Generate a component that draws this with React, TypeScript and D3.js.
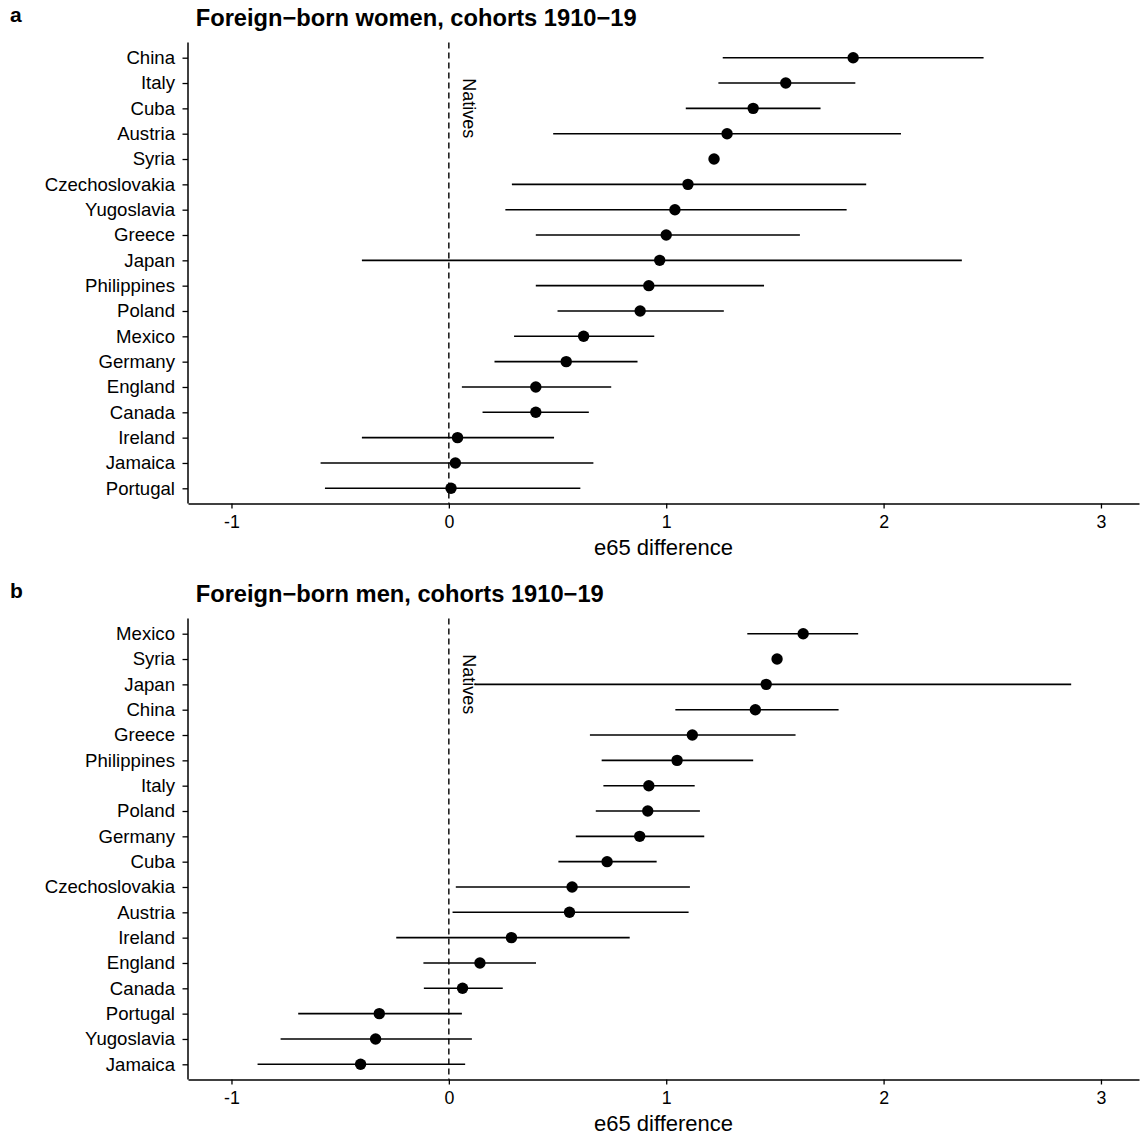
import React, { useEffect, useRef } from 'react';
import * as d3 from 'd3';

// panel a: women
const womenCountries = ['China', 'Italy', 'Cuba', 'Austria', 'Syria', 'Czechoslovakia', 'Yugoslavia', 'Greece', 'Japan', 'Philippines', 'Poland', 'Mexico', 'Germany', 'England', 'Canada', 'Ireland', 'Jamaica', 'Portugal'];
const womenEst = [1.86, 1.55, 1.40, 1.28, 1.22, 1.10, 1.04, 1.00, 0.97, 0.92, 0.88, 0.62, 0.54, 0.40, 0.40, 0.04, 0.03, 0.01];
const womenLow = [1.26, 1.24, 1.09, 0.48, null, 0.29, 0.26, 0.40, -0.40, 0.40, 0.50, 0.30, 0.21, 0.06, 0.155, -0.40, -0.59, -0.57];
const womenHigh = [2.46, 1.87, 1.71, 2.08, null, 1.92, 1.83, 1.615, 2.36, 1.45, 1.265, 0.945, 0.868, 0.747, 0.644, 0.484, 0.665, 0.605];

// panel b: men
const menCountries = ['Mexico', 'Syria', 'Japan', 'China', 'Greece', 'Philippines', 'Italy', 'Poland', 'Germany', 'Cuba', 'Czechoslovakia', 'Austria', 'Ireland', 'England', 'Canada', 'Portugal', 'Yugoslavia', 'Jamaica'];
const menEst = [1.63, 1.51, 1.46, 1.41, 1.12, 1.05, 0.92, 0.915, 0.878, 0.728, 0.567, 0.555, 0.288, 0.143, 0.063, -0.32, -0.337, -0.406];
const menLow = [1.373, null, 0.118, 1.042, 0.649, 0.703, 0.711, 0.676, 0.584, 0.504, 0.032, 0.017, -0.242, -0.117, -0.115, -0.693, -0.774, -0.88];
const menHigh = [1.883, null, 2.863, 1.793, 1.595, 1.40, 1.131, 1.155, 1.175, 0.956, 1.109, 1.103, 0.832, 0.401, 0.248, 0.06, 0.106, 0.075];

const xTicks = [-1, 0, 1, 2, 3];
const xDomain = [-1.2, 3.175];

const FONT = '"Liberation Sans", Arial, Helvetica, sans-serif';

const panels = [
  { tag: 'a', title: 'Foreign\u2212born women, cohorts 1910\u221219', countries: womenCountries, est: womenEst, low: womenLow, high: womenHigh, offset: 0 },
  { tag: 'b', title: 'Foreign\u2212born men, cohorts 1910\u221219', countries: menCountries, est: menEst, low: menLow, high: menHigh, offset: 576 },
];

const App = () => {
  const ref = useRef(null);

  useEffect(() => {
    const svg = d3.select(ref.current);
    svg.selectAll('*').remove();
    svg.style('font-family', FONT);

    const left = 188;
    const right = 1139;

    const x = d3.scaleLinear().domain(xDomain).range([left, right]);

    panels.forEach(p => {
      const top = 42.5 + p.offset;
      const bottom = 503.5 + p.offset;
      const g = svg.append('g');

      const y = d3.scalePoint()
        .domain(p.countries)
        .range([top, bottom])
        .padding(0.6);

      // tag + title
      g.append('text')
        .attr('x', 10)
        .attr('y', 21.7 + p.offset)
        .attr('font-size', 21)
        .attr('font-weight', 'bold')
        .text(p.tag);
      g.append('text')
        .attr('x', 195.7)
        .attr('y', 26 + p.offset)
        .attr('font-size', 23.7)
        .attr('font-weight', 'bold')
        .text(p.title);

      // reference line for natives
      g.append('line')
        .attr('x1', x(0)).attr('x2', x(0))
        .attr('y1', top).attr('y2', bottom)
        .attr('stroke', '#000')
        .attr('stroke-width', 1.4)
        .attr('stroke-dasharray', '6,4');

      g.append('text')
        .attr('transform', `translate(${x(0) + 14},${y(p.countries[2])}) rotate(90)`)
        .attr('text-anchor', 'middle')
        .attr('font-size', 18)
        .text('Natives');

      const rows = p.countries.map((c, i) => ({ c, est: p.est[i], low: p.low[i], high: p.high[i] }));

      g.selectAll('.ci')
        .data(rows.filter(d => d.low !== null))
        .enter().append('line')
        .attr('x1', d => x(d.low))
        .attr('x2', d => x(d.high))
        .attr('y1', d => y(d.c))
        .attr('y2', d => y(d.c))
        .attr('stroke', '#000')
        .attr('stroke-width', 1.6);

      g.selectAll('.pt')
        .data(rows)
        .enter().append('circle')
        .attr('cx', d => x(d.est))
        .attr('cy', d => y(d.c))
        .attr('r', 5.7)
        .attr('fill', '#000');

      // axes
      const yAxis = g.append('g')
        .attr('transform', `translate(${left},0)`)
        .call(d3.axisLeft(y).tickSize(5.5).tickSizeOuter(0).tickPadding(7.5));
      yAxis.select('.domain').attr('d', `M0,${top}V${bottom}`).attr('stroke-width', 1.5);
      yAxis.selectAll('.tick line').attr('stroke-width', 1.3);
      yAxis.selectAll('text').attr('font-size', 18.6).attr('fill', '#000').attr('font-family', FONT);

      const xAxis = g.append('g')
        .attr('transform', `translate(0,${bottom})`)
        .call(d3.axisBottom(x).tickValues(xTicks).tickFormat(d3.format('d')).tickSize(5).tickSizeOuter(0));
      xAxis.select('.domain').attr('stroke-width', 1.5);
      xAxis.selectAll('.tick line').attr('stroke-width', 1.3);
      xAxis.selectAll('text')
        .attr('font-size', 17.8)
        .attr('fill', '#000')
        .attr('font-family', FONT)
        .attr('y', 24.8)
        .attr('dy', 0)
        .text(d => (d < 0 ? '-' + Math.abs(d) : String(d)));

      g.append('text')
        .attr('x', (left + right) / 2)
        .attr('y', 555 + p.offset)
        .attr('text-anchor', 'middle')
        .attr('font-size', 22)
        .text('e65 difference');
    });
  }, []);

  return (
    <svg ref={ref} width="1140" height="1135" style={{ position: 'absolute', left: 0, top: 0, background: '#fff' }}></svg>
  );
};

export default App;
